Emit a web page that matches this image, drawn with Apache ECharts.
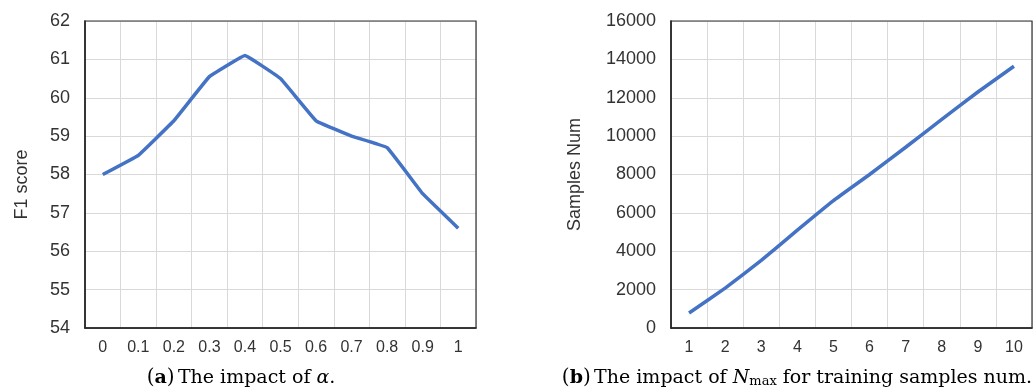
<!DOCTYPE html>
<html>
<head>
<meta charset="utf-8">
<script src="https://cdn.jsdelivr.net/npm/echarts@6/dist/echarts.min.js"></script>
<style>
html,body{margin:0;padding:0;background:#fff;}
#c{width:1034px;height:392px;}
</style>
</head>
<body>
<div id="c"></div>
<script>
const alphaCats = ['0','0.1','0.2','0.3','0.4','0.5','0.6','0.7','0.8','0.9','1'];
const f1Scores = [58.0, 58.5, 59.4, 60.55, 61.1, 60.5, 59.4, 59.0, 58.7, 57.5, 56.6];
const nmaxCats = ['1','2','3','4','5','6','7','8','9','10'];
const sampleNums = [780, 2080, 3520, 5100, 6640, 8000, 9420, 10870, 12300, 13640];
const leftYName = 'F1 score';
const rightYName = 'Samples Num';

const chart = echarts.init(document.getElementById('c'), null, {renderer:'canvas'});
const labelFont = 'Liberation Sans';
const textColor = '#333333';
const lineColor = '#4472C4';

function xAxis(idx, cats){
  return {
    type:'category', gridIndex: idx, data: cats, boundaryGap: true,
    axisLine:{show:true, lineStyle:{color:'#000', width:1.5}},
    axisTick:{show:false},
    axisLabel:{color:textColor, fontFamily:labelFont, fontSize:16, margin:12},
    splitLine:{show:true, lineStyle:{color:'#d9d9d9', width:1}}
  };
}
function yAxis(idx, min, max, interval, name, gap, pad){
  return {
    type:'value', gridIndex: idx, min:min, max:max, interval:interval,
    name:name, nameLocation:'middle', nameGap:gap, nameRotate:90,
    nameTextStyle:{color:textColor, fontFamily:labelFont, fontSize:18, padding:pad},
    axisLine:{show:true, lineStyle:{color:'#000', width:1.5}},
    axisTick:{show:false},
    axisLabel:{color:textColor, fontFamily:labelFont, fontSize:18, margin:15,
      formatter: function(v){ return String(v); }},
    splitLine:{show:true, lineStyle:{color:'#d9d9d9', width:1}}
  };
}

chart.setOption({
  animation:false,
  backgroundColor:'#fff',
  grid:[
    {left:85, top:21, width:391, height:307, show:true, borderColor:'#333', borderWidth:1.2, backgroundColor:'transparent', z:3},
    {left:671, top:21, width:361, height:307, show:true, borderColor:'#333', borderWidth:1.2, backgroundColor:'transparent', z:3}
  ],
  xAxis:[xAxis(0, alphaCats), xAxis(1, nmaxCats)],
  yAxis:[
    yAxis(0, 54, 62, 1, leftYName, 54, [0,20,0,0]),
    yAxis(1, 0, 16000, 2000, rightYName, 87, [0,0,0,0])
  ],
  series:[
    {type:'line', xAxisIndex:0, yAxisIndex:0, data:f1Scores, smooth:0.06, showSymbol:false,
     lineStyle:{color:lineColor, width:3.5}, itemStyle:{color:lineColor}},
    {type:'line', xAxisIndex:1, yAxisIndex:1, data:sampleNums, smooth:0.1, showSymbol:false,
     lineStyle:{color:lineColor, width:3.5}, itemStyle:{color:lineColor}}
  ],
  graphic:[
    {type:'text', x:241, y:378, style:{
      text:'{p|(}{b|a}{p|)} {t|The impact of }{i|α}{t|.}',
      align:'center', verticalAlign:'middle',
      rich:{
        p:{fontFamily:'DejaVu Serif', fontSize:20, fill:'#000'},
        b:{fontFamily:'DejaVu Serif', fontSize:19, fontWeight:'bold', fill:'#000'},
        t:{fontFamily:'DejaVu Serif', fontSize:19, fill:'#000'},
        i:{fontFamily:'DejaVu Serif', fontSize:19, fontStyle:'italic', fill:'#000'}
      }
    }},
    {type:'text', x:797, y:378, style:{
      text:'{p|(}{b|b}{p|)} {t|The impact of }{i|N}{s|max}{t| for training samples num.}',
      align:'center', verticalAlign:'middle',
      rich:{
        p:{fontFamily:'DejaVu Serif', fontSize:20, fill:'#000'},
        b:{fontFamily:'DejaVu Serif', fontSize:19, fontWeight:'bold', fill:'#000'},
        t:{fontFamily:'DejaVu Serif', fontSize:19, fill:'#000'},
        i:{fontFamily:'DejaVu Serif', fontSize:19, fontStyle:'italic', fill:'#000'},
        s:{fontFamily:'DejaVu Serif', fontSize:13, fill:'#000', padding:[8,0,0,0]}
      }
    }}
  ]
});
</script>
</body>
</html>
